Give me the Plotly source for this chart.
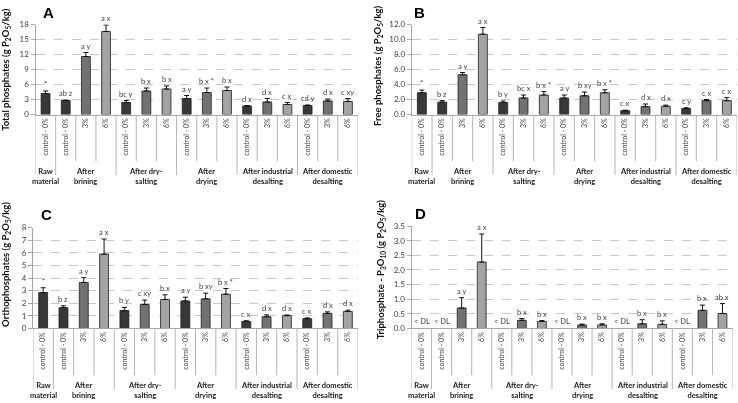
import plotly.graph_objects as go

# ---------------- data ----------------
groups = ["Raw<br>material", "After<br>brining", "After dry-<br>salting", "After<br>drying",
          "After industrial<br>desalting", "After domestic<br>desalting"]
group_sizes = [1, 3, 3, 3, 3, 3]
treatments = ["control - 0%",
              "control - 0%", "3%", "6%",
              "control - 0%", "3%", "6%",
              "control - 0%", "3%", "6%",
              "control - 0%", "3%", "6%",
              "control - 0%", "3%", "6%"]
treat_kind = ["c", "c", "3", "6", "c", "3", "6", "c", "3", "6", "c", "3", "6", "c", "3", "6"]

total_vals = [4.2, 2.8, 11.6, 16.6, 2.4, 4.7, 5.1, 3.2, 4.4, 4.8, 1.7, 2.5, 2.0, 1.8, 2.7, 2.6]
total_err = [0.5, 0.1, 0.8, 1.3, 0.4, 0.6, 0.6, 0.6, 0.9, 0.7, 0.1, 0.7, 0.4, 0.1, 0.4, 0.6]
total_lbl = ["*", "ab z", "a y", "a x", "bc y", "b x", "b x", "a y", "b x *", "b x",
             "d x", "d x", "c x", "cd y", "d x", "c xy"]

free_vals = [2.9, 1.65, 5.3, 10.7, 1.6, 2.2, 2.6, 2.2, 2.5, 2.9, 0.5, 1.05, 1.1, 0.8, 1.85, 1.85]
free_err = [0.35, 0.2, 0.3, 0.9, 0.2, 0.4, 0.45, 0.4, 0.5, 0.4, 0.08, 0.35, 0.15, 0.1, 0.15, 0.4]
free_lbl = ["*", "b z", "a y", "a x", "b y", "bc x", "b x *", "a y", "b xy", "b x *",
            "c x", "d x", "d x", "c y", "c x", "c x"]

ortho_vals = [2.85, 1.65, 3.65, 5.9, 1.42, 1.9, 2.3, 2.18, 2.35, 2.72, 0.56, 0.93, 1.02, 0.78, 1.2, 1.35]
ortho_err = [0.38, 0.15, 0.38, 1.2, 0.25, 0.35, 0.37, 0.3, 0.45, 0.45, 0.05, 0.15, 0.05, 0.06, 0.12, 0.1]
ortho_lbl = ["*", "b z", "a y", "a x", "b y", "c xy", "b x", "a y", "b xy", "b x *",
             "c x", "d x", "d x", "c x", "d x", "d x"]

tri_vals = [None, None, 0.7, 2.27, None, 0.28, 0.24, None, 0.12, 0.12, None, 0.16, 0.14, None, 0.62, 0.51]
tri_err = [None, None, 0.35, 0.96, None, 0.06, 0.03, None, 0.03, 0.04, None, 0.14, 0.12, None, 0.18, 0.34]
tri_lbl = ["< DL", "< DL", "a y", "a x", "< DL", "b x", "b x", "< DL", "b x", "b x",
           "< DL", "b x", "b x", "< DL", "b x", "ab x"]

# ---------------- layout helpers ----------------
W, H = 738, 403
def fx(px):
    return px / W
def fy(py):
    return 1 - py / H

FONT = "Lato, 'Open Sans', Arial, sans-serif"
colors = {"c": "#383838", "3": "#727272", "6": "#a3a3a3"}

panels = [
    dict(letter="A", vals=total_vals, err=total_err, lbl=total_lbl, x0=35.5, x1=358, ytop=20, ybot=112.3,
         rng=[0, 18], dtick=3, fmt="d",
         title="Total phosphates (g P<sub>2</sub>O<sub>5</sub>/kg)", tx=6.5, ty=66, lx=41, ly=8),
    dict(letter="B", vals=free_vals, err=free_err, lbl=free_lbl, x0=411.7, x1=737, ytop=20, ybot=112.3,
         rng=[0, 12], dtick=2, fmt=".1f",
         title="Free phosphates (g P<sub>2</sub>O<sub>5</sub>/kg)", tx=378.5, ty=62, lx=412, ly=8),
    dict(letter="C", vals=ortho_vals, err=ortho_err, lbl=ortho_lbl, x0=33, x1=358, ytop=228.3, ybot=331.7,
         rng=[0, 8], dtick=1, fmt="d",
         title="Orthophosphates (g P<sub>2</sub>O<sub>5</sub>/kg)", tx=6.5, ty=266, lx=39, ly=215),
    dict(letter="D", vals=tri_vals, err=tri_err, lbl=tri_lbl, x0=411.5, x1=732.5, ytop=226.7, ybot=331.7,
         rng=[0, 3.5], dtick=0.5, fmt=".1f",
         title="Triphosphate - P<sub>3</sub>O<sub>10</sub> (g P<sub>2</sub>O<sub>5</sub>/kg)",
         tx=381, ty=271, lx=413, ly=214),
]

fig = go.Figure()
n = len(treatments)
xs = list(range(n))
annotations = []
shapes = []

# divider positions from group sizes
outer_div = [-0.5]
inner_div = []
pos = -0.5
for g in group_sizes:
    for k in range(1, g):
        inner_div.append(pos + k)
    pos += g
    outer_div.append(pos)
centers = []
start = 0
for g in group_sizes:
    centers.append(start + (g - 1) / 2)
    start += g

for i, p in enumerate(panels):
    sfx = "" if i == 0 else str(i + 1)
    xa, ya = "x" + sfx, "y" + sfx
    for kind in ["c", "3", "6"]:
        idx = [j for j in xs if treat_kind[j] == kind]
        fig.add_trace(go.Bar(
            x=idx, y=[p["vals"][j] for j in idx],
            width=0.44,
            marker=dict(color=colors[kind], line=dict(color="#1e1e1e", width=0.8)),
            error_y=dict(type="data", symmetric=False,
                         array=[p["err"][j] for j in idx],
                         arrayminus=[0 for _ in idx],
                         color="#111111", thickness=1, width=2.5),
            xaxis=xa, yaxis=ya, showlegend=False, hoverinfo="skip"))

    fig.layout["xaxis" + sfx] = dict(
        domain=[fx(p["x0"]), fx(p["x1"])], anchor=ya, range=[-0.5, n - 0.5],
        tickvals=xs, ticktext=treatments, tickangle=-90, ticks="",
        tickfont=dict(size=7, color="#404040", family=FONT),
        showline=True, linecolor="#a6a6a6", linewidth=1, showgrid=False, zeroline=False, fixedrange=True)
    fig.layout["yaxis" + sfx] = dict(
        domain=[fy(p["ybot"]), fy(p["ytop"])], anchor=xa, range=p["rng"], dtick=p["dtick"], tick0=0,
        tickformat=p["fmt"], ticks="outside", ticklen=4, tickcolor="#a6a6a6",
        tickfont=dict(size=8, color="#404040", family=FONT),
        showline=True, linecolor="#a6a6a6", linewidth=1,
        showgrid=True, gridcolor="#c8c8c8", griddash="dash", gridwidth=1, zeroline=False)

    # dividers
    for d in inner_div:
        shapes.append(dict(type="line", xref=xa, yref="paper", x0=d, x1=d,
                           y0=fy(p["ybot"]), y1=fy(p["ybot"] + 48),
                           line=dict(color="#b4b4b4", width=1)))
    for d in outer_div:
        shapes.append(dict(type="line", xref=xa, yref="paper", x0=d, x1=d,
                           y0=fy(p["ybot"]), y1=fy(p["ybot"] + 62),
                           line=dict(color="#b4b4b4", width=1)))
    # group labels
    for c, gname in zip(centers, groups):
        annotations.append(dict(x=c, y=fy(p["ybot"] + 63.5), xref=xa, yref="paper", text="<b>" + gname + "</b>",
                                showarrow=False, font=dict(size=7.5, color="#1a1a1a", family=FONT),
                                xanchor="center", yanchor="middle", align="center"))
    # significance labels
    for j in xs:
        v = p["vals"][j]
        e = p["err"][j]
        base = 0 if v is None else v + (e or 0)
        annotations.append(dict(x=j, y=base, xref=xa, yref=ya, text=p["lbl"][j], showarrow=False,
                                font=dict(size=7.5, color="#404040", family=FONT),
                                xanchor="center", yanchor="bottom", yshift=0))
    # axis title
    annotations.append(dict(x=fx(p["tx"]), y=fy(p["ty"]), xref="paper", yref="paper",
                            text="<b>" + p["title"] + "</b>", textangle=-90, showarrow=False,
                            font=dict(size=9.5, color="#111111", family=FONT),
                            xanchor="center", yanchor="middle"))
    # panel letter
    annotations.append(dict(x=fx(p["lx"]), y=fy(p["ly"]), xref="paper", yref="paper",
                            text="<b>" + p["letter"] + "</b>", showarrow=False,
                            font=dict(size=15, color="#000000", family="Arial, 'Liberation Sans', sans-serif"),
                            xanchor="left", yanchor="middle"))

fig.update_layout(
    width=W, height=H, margin=dict(l=0, r=0, t=0, b=0),
    paper_bgcolor="white", plot_bgcolor="white",
    barmode="overlay", annotations=annotations, shapes=shapes,
    font=dict(family=FONT),
)

fig.write_html("out.html", config={"displayModeBar": False},
               post_script="document.body.style.margin='0';document.body.style.overflow='hidden';"
                           "var d=document.querySelector('.plotly-graph-div');"
                           "if(d){d.style.willChange='transform';}")
